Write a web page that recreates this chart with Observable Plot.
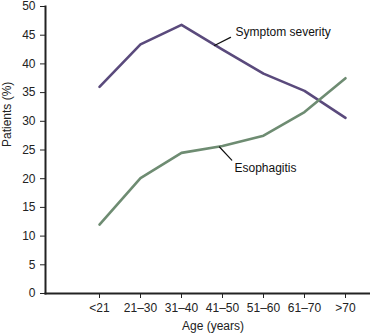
<!DOCTYPE html>
<html>
<head>
<meta charset="utf-8">
<script src="https://cdn.jsdelivr.net/npm/d3@7"></script>
<script src="https://cdn.jsdelivr.net/npm/@observablehq/plot@0.6"></script>
<style>
  html, body { margin: 0; padding: 0; background: #fff; }
  svg { display: block; }
</style>
</head>
<body>
<div id="chart"></div>
<script>
const ageGroups = ["<21", "21–30", "31–40", "41–50", "51–60", "61–70", ">70"];
const symptomSeverity = [36.0, 43.4, 46.8, 42.5, 38.3, 35.3, 30.6];
const esophagitis = [12.0, 20.1, 24.5, 25.7, 27.5, 31.6, 37.5];
const yTicks = [0, 5, 10, 15, 20, 25, 30, 35, 40, 45, 50];
const seriesNames = ["Symptom severity", "Esophagitis"];
const seriesColors = ["#5a4a7c", "#6e8c72"];
const yLabel = "Patients (%)";
const xLabel = "Age (years)";

const rows = [];
ageGroups.forEach((a, i) => {
  rows.push({age: a, value: symptomSeverity[i], series: seriesNames[0]});
  rows.push({age: a, value: esophagitis[i], series: seriesNames[1]});
});

// annotation anchors: the label is attached at the "41–50" point of each series
const annoIndex = 3;
const annos = [
  {series: seriesNames[0], age: ageGroups[annoIndex], value: symptomSeverity[annoIndex]},
  {series: seriesNames[1], age: ageGroups[annoIndex], value: esophagitis[annoIndex]}
];

const chart = Plot.plot({
  width: 370,
  height: 335,
  marginLeft: 45,
  marginRight: 0,
  marginTop: 6,
  marginBottom: 42,
  style: {fontFamily: "'Liberation Sans', Arial, sans-serif", fontSize: "12px", color: "#222", background: "#fff"},
  x: {type: "point", domain: ageGroups, range: [76, 368]},
  y: {domain: [0, 50]},
  color: {domain: seriesNames, range: seriesColors},
  marks: [
    Plot.axisY({ticks: yTicks, tickSize: 5, tickPadding: 5, label: null, fontSize: 12, stroke: "#222"}),
    Plot.axisX({tickSize: 5, tickPadding: 5, label: null, fontSize: 12, stroke: "#222"}),
    Plot.frame({anchor: "left", stroke: "#222", strokeWidth: 2}),
    Plot.frame({anchor: "bottom", stroke: "#222", strokeWidth: 2}),
    Plot.line(rows, {x: "age", y: "value", z: "series", stroke: "series", strokeWidth: 2.6}),
    // leader lines
    Plot.vector([annos[0]], {x: "age", y: "value", dx: -8, dy: -4, length: 18, rotate: 63, anchor: "start", r: 0, stroke: "#111", strokeWidth: 1.2}),
    Plot.vector([annos[1]], {x: "age", y: "value", dx: -3, dy: 1, length: 18, rotate: 137, anchor: "start", r: 0, stroke: "#111", strokeWidth: 1.2}),
    // labels
    Plot.text([annos[0]], {x: "age", y: "value", text: "series", dx: 13, dy: -17, textAnchor: "start", fontSize: 12, fill: "#111"}),
    Plot.text([annos[1]], {x: "age", y: "value", text: "series", dx: 12, dy: 22, textAnchor: "start", fontSize: 12, fill: "#111"}),
    // axis titles
    Plot.text([yLabel], {text: d => d, frameAnchor: "left", dx: -38, dy: -3, rotate: -90, fontSize: 12, fill: "#222"}),
    Plot.text([xLabel], {text: d => d, frameAnchor: "bottom", dx: 5, dy: 36, fontSize: 12, fill: "#222"})
  ]
});
document.getElementById("chart").appendChild(chart);
</script>
</body>
</html>
